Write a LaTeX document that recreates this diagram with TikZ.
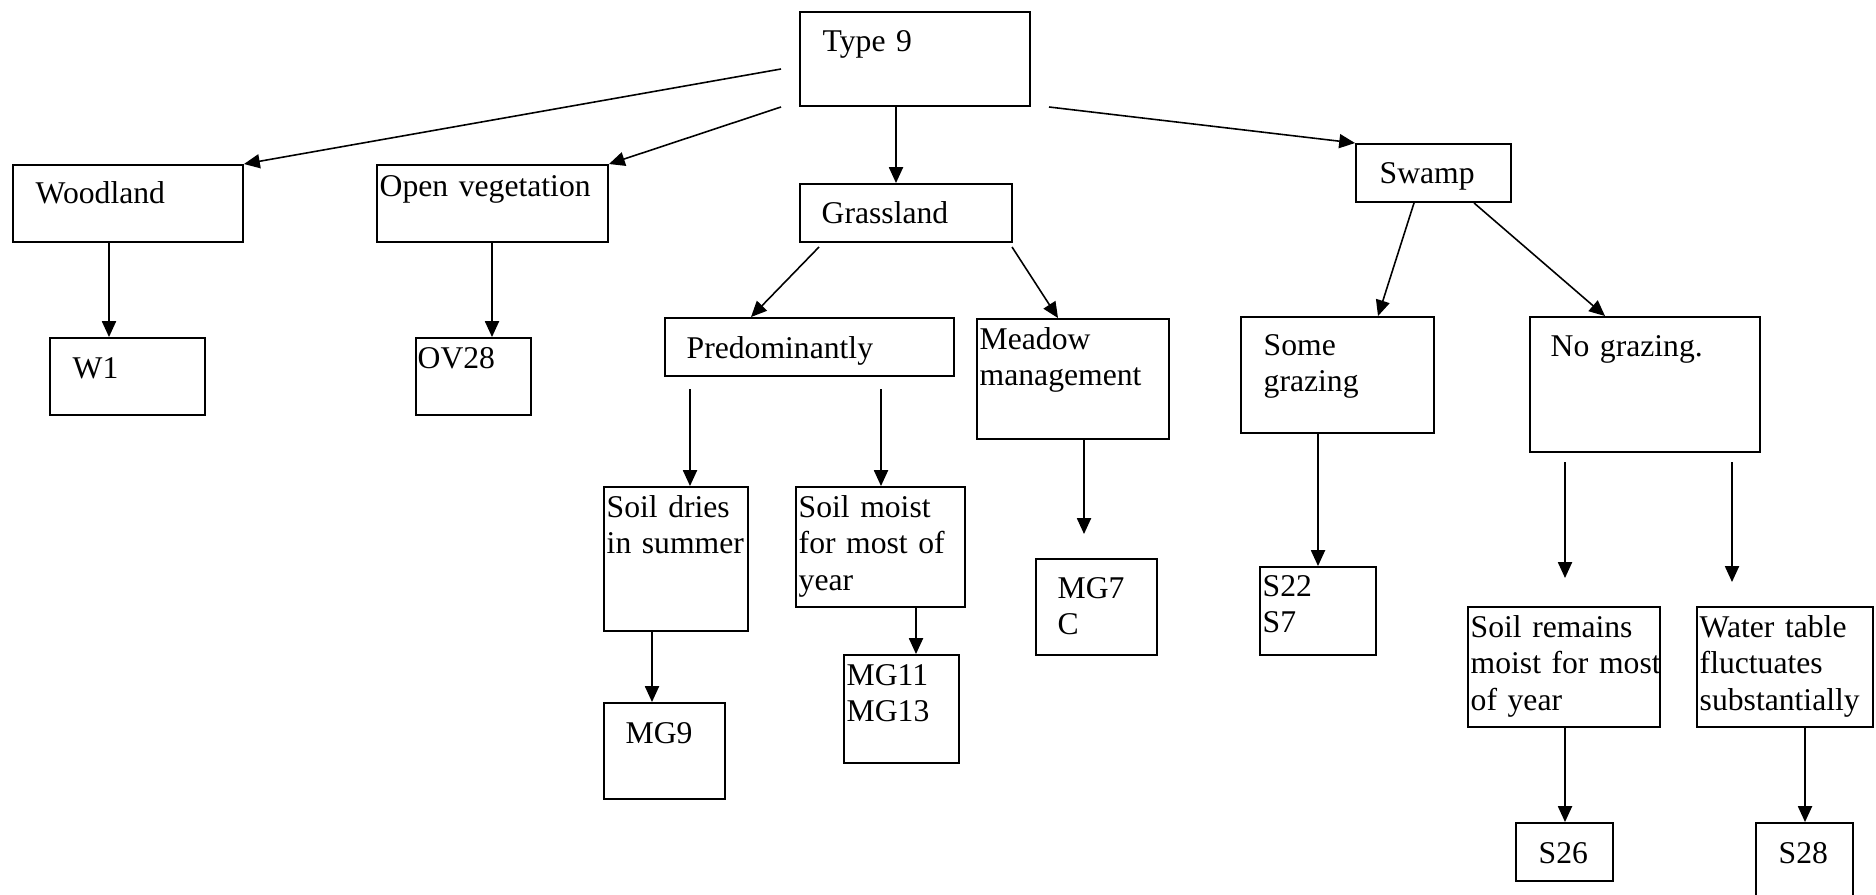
\documentclass[tikz,border=0pt]{standalone}
\usepackage{fontspec}
\setmainfont{Liberation Serif}
\usetikzlibrary{arrows.meta,fit}
\begin{document}
\begin{tikzpicture}[x=0.01cm,y=-0.01cm,
  boxst/.style={draw, line width=0.55pt, inner sep=0pt},
  txt/.style={inner sep=0pt, anchor=base west, align=left, text width=6cm, font=\fontsize{9}{10.5}\selectfont},
  arr/.style={-{Triangle[length=4.5pt,width=4pt]}, line width=0.45pt}]
\useasboundingbox (0,0) rectangle (1876,894);
% boxes
\node[boxst, fit={(800,12) (1030,106)}] (t9) {};
\node[boxst, fit={(13,165) (243,242)}] (wood) {};
\node[boxst, fit={(377,165) (608,242)}] (ov) {};
\node[boxst, fit={(800,184) (1012,242)}] (gl) {};
\node[boxst, fit={(1356,144) (1511,202)}] (sw) {};
\node[boxst, fit={(50,338) (205,415)}] (w1) {};
\node[boxst, fit={(416,338) (531,415)}] (ov28) {};
\node[boxst, fit={(665,318) (954,376)}] (pred) {};
\node[boxst, fit={(977,319) (1169,439)}] (mead) {};
\node[boxst, fit={(1241,317) (1434,433)}] (some) {};
\node[boxst, fit={(1530,317) (1760,452)}] (nog) {};
\node[boxst, fit={(604,487) (748,631)}] (sd) {};
\node[boxst, fit={(796,487) (965,607)}] (sm) {};
\node[boxst, fit={(604,703) (725,799)}] (mg9) {};
\node[boxst, fit={(844,655) (959,763)}] (mg11) {};
\node[boxst, fit={(1036,559) (1157,655)}] (mg7) {};
\node[boxst, fit={(1260,567) (1376,655)}] (s22) {};
\node[boxst, fit={(1468,607) (1660,727)}] (sr) {};
\node[boxst, fit={(1697,607) (1873,727)}] (wt) {};
\node[boxst, fit={(1516,823) (1613,881)}] (s26) {};
\node[boxst, fit={(1756,823) (1853,960)}] (s28) {};
% texts
\node[txt] (t9t) at (822,52) {Type 9};
\node[txt] (woodt) at (35,204) {Woodland};
\node[txt] (ovt) at (379,196) {Open vegetation};
\node[txt] (glt) at (821,223) {Grassland};
\node[txt] (swt) at (1379,183) {Swamp};
\node[txt] (w1t) at (72,378) {W1};
\node[txt] (ov28t) at (417,368) {OV28};
\node[txt] (predt) at (686,358) {Predominantly};
\node[txt] (meadt) at (979,349) {Meadow\\management};
\node[txt] (somet) at (1263,355) {Some\\grazing};
\node[txt] (nogt) at (1550,356) {No grazing.};
\node[txt] (sdt) at (606,517) {Soil dries\\in summer};
\node[txt] (smt) at (798,517) {Soil moist\\for most of\\year};
\node[txt] (mg9t) at (625,743) {MG9};
\node[txt] (mg11t) at (846,685) {MG11\\MG13};
\node[txt] (mg7t) at (1057,598) {MG7\\C};
\node[txt] (s22t) at (1262,596) {S22\\S7};
\node[txt] (srt) at (1470,637) {Soil remains\\moist for most\\of year};
\node[txt] (wtt) at (1699,637) {Water table\\fluctuates\\substantially};
\node[txt] (s26t) at (1538,863) {S26};
\node[txt] (s28t) at (1778,863) {S28};
% connectors
\coordinate (a1) at (781,69);
\coordinate (a2) at (781,107);
\coordinate (a3) at (896,0);
\coordinate (a4) at (1049,107);
\coordinate (a5) at (819,247);
\coordinate (a5e) at (751,0);
\coordinate (a6) at (1012,247);
\coordinate (a6e) at (1058,0);
\coordinate (a7s) at (1414,0);
\coordinate (a7e) at (1378,0);
\coordinate (a8s) at (1474,0);
\coordinate (a8e) at (1605,0);
\coordinate (b1) at (109,0);
\coordinate (b2) at (492,0);
\coordinate (c1) at (690,389);
\coordinate (c2) at (881,389);
\coordinate (c3) at (1084,534);
\coordinate (b3) at (652,0);
\coordinate (b4) at (916,0);
\coordinate (b5) at (1318,0);
\coordinate (d1s) at (1565,462);
\coordinate (d1e) at (1565,578);
\coordinate (d2s) at (1732,462);
\coordinate (d2e) at (1732,582);
\coordinate (b6) at (1565,0);
\coordinate (b7) at (1805,0);
\draw[arr] (a1) -- (wood.north east);
\draw[arr] (a2) -- (ov.north east);
\draw[arr] (t9.south -| a3) -- (gl.north -| a3);
\draw[arr] (a4) -- (sw.north west);
\draw[arr] (a5) -- (pred.north -| a5e);
\draw[arr] (a6) -- (mead.north -| a6e);
\draw[arr] (sw.south -| a7s) -- (some.north -| a7e);
\draw[arr] (sw.south -| a8s) -- (nog.north -| a8e);
\draw[arr] (wood.south -| b1) -- (w1.north -| b1);
\draw[arr] (ov.south -| b2) -- (ov28.north -| b2);
\draw[arr] (c1) -- (sd.north -| c1);
\draw[arr] (c2) -- (sm.north -| c2);
\draw[arr] (mead.south -| c3) -- (c3);
\draw[arr] (sd.south -| b3) -- (mg9.north -| b3);
\draw[arr] (sm.south -| b4) -- (mg11.north -| b4);
\draw[arr] (some.south -| b5) -- (s22.north -| b5);
\draw[arr] (d1s) -- (d1e);
\draw[arr] (d2s) -- (d2e);
\draw[arr] (sr.south -| b6) -- (s26.north -| b6);
\draw[arr] (wt.south -| b7) -- (s28.north -| b7);
\end{tikzpicture}
\end{document}
